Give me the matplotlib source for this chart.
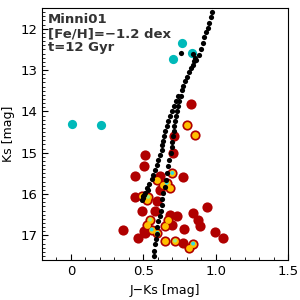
import matplotlib
matplotlib.use("Agg")
import matplotlib.pyplot as plt
from matplotlib.ticker import MultipleLocator

# isochrone, upper part (single sequence)
iso_top_x = [0.977, 0.966, 0.954, 0.945, 0.933, 0.922, 0.913, 0.897, 0.883, 0.864,
             0.844, 0.830, 0.816, 0.804, 0.788, 0.774, 0.765, 0.761, 0.845, 0.855, 0.850]
iso_top_y = [11.60, 11.71, 11.86, 11.97, 12.08, 12.20, 12.35, 12.49, 12.64, 12.76,
             12.88, 12.95, 13.05, 13.17, 13.26, 13.38, 13.48, 12.59, 12.62, 12.70, 12.78]
# left branch
iso_l_x = [0.740, 0.726, 0.712, 0.698, 0.685, 0.674, 0.664, 0.653, 0.643, 0.636,
           0.631, 0.627, 0.615, 0.604, 0.593, 0.581, 0.569, 0.558, 0.539, 0.524,
           0.512, 0.500, 0.491, 0.505, 0.530, 0.495]
iso_l_y = [13.63, 13.75, 13.87, 13.99, 14.11, 14.23, 14.35, 14.47, 14.59, 14.71,
           14.82, 14.93, 15.05, 15.17, 15.29, 15.41, 15.53, 15.63, 15.75, 15.85,
           15.97, 16.09, 16.14, 16.02, 15.90, 16.05]
# right branch
iso_r_x = [0.761, 0.750, 0.740, 0.733, 0.726, 0.719, 0.712, 0.709, 0.705, 0.700,
           0.695, 0.691, 0.678, 0.669, 0.662, 0.655, 0.650, 0.638, 0.629, 0.627,
           0.622, 0.615, 0.604, 0.598, 0.593, 0.588, 0.581, 0.576, 0.574, 0.571]
iso_r_y = [13.63, 13.75, 13.87, 13.99, 14.11, 14.23, 14.35, 14.47, 14.59, 14.73,
           14.86, 15.00, 15.17, 15.33, 15.49, 15.65, 15.82, 15.98, 16.11, 16.26,
           16.40, 16.54, 16.66, 16.81, 16.96, 17.10, 17.22, 17.39, 17.51, 17.64]

# stars: R = red only, Y = yellow centre, C = cyan centre, G = green centre
star_x = [0.832, 0.800, 0.857, 0.712, 0.512, 0.702, 0.507, 0.446, 0.774, 0.700,
          0.595, 0.615, 0.662, 0.685, 0.638, 0.615, 0.443, 0.489, 0.533, 0.524,
          0.593, 0.489, 0.581, 0.685, 0.731, 0.846, 0.938, 0.878, 0.892, 0.673,
          0.546, 0.524, 0.650, 0.696, 0.558, 0.598, 0.362, 0.461, 0.505, 0.783,
          0.996, 1.053, 0.719, 0.650, 0.844, 0.816, 0.776, 0.512]
star_y = [13.83, 14.33, 14.57, 14.59, 15.05, 15.01, 15.33, 15.56, 15.58, 15.49,
          15.65, 15.56, 15.73, 15.85, 15.78, 15.90, 16.07, 16.06, 16.07, 16.14,
          16.18, 16.40, 16.42, 16.50, 16.54, 16.46, 16.31, 16.62, 16.78, 16.62,
          16.62, 16.74, 16.78, 16.76, 16.86, 16.94, 16.86, 17.06, 16.89, 16.84,
          16.92, 17.06, 17.13, 17.13, 17.20, 17.30, 17.18, 16.94]
star_cat = ["R", "Y", "Y", "R", "R", "R", "R", "R", "R", "C",
            "Y", "R", "C", "Y", "Y", "R", "R", "Y", "G", "Y",
            "R", "R", "R", "R", "R", "R", "R", "R", "R", "Y",
            "G", "Y", "Y", "R", "C", "C", "R", "R", "R", "R",
            "R", "R", "G", "Y", "C", "Y", "R", "R"]

# bright cyan stars
cyan_x = [0.009, 0.206, 0.770, 0.707, 0.835]
cyan_y = [14.31, 14.33, 12.35, 12.74, 12.59]

fig, ax = plt.subplots(figsize=(3, 3), dpi=100)
fig.subplots_adjust(left=0.14, right=0.96, bottom=0.133, top=0.973)

ax.scatter(cyan_x, cyan_y, s=44, color="#00b9b9", lw=0, zorder=2)
ax.scatter(star_x, star_y, s=54, color="#b00000", lw=0, zorder=2)

yx = [x for x, c in zip(star_x, star_cat) if c != "R"]
yy = [y for y, c in zip(star_y, star_cat) if c != "R"]
ax.scatter(yx, yy, s=24, color="#ffc000", lw=0, zorder=3)

core_col = {"C": "#33dddd", "G": "#a0ee80"}
cx = [x for x, c in zip(star_x, star_cat) if c in core_col]
cy = [y for y, c in zip(star_y, star_cat) if c in core_col]
cc = [core_col[c] for c in star_cat if c in core_col]
ax.scatter(cx, cy, s=8, c=cc, lw=0, zorder=4)

for xs, ys in [(iso_top_x, iso_top_y), (iso_l_x, iso_l_y), (iso_r_x, iso_r_y)]:
    ax.scatter(xs, ys, s=14, color="black", lw=0, zorder=5)

ax.set_xlim(-0.2, 1.5)
ax.set_ylim(17.6, 11.5)
ax.xaxis.set_major_locator(MultipleLocator(0.5))
ax.xaxis.set_minor_locator(MultipleLocator(0.1))
ax.yaxis.set_major_locator(MultipleLocator(1))
ax.yaxis.set_minor_locator(MultipleLocator(0.1))
ax.set_xticks([0, 0.5, 1.0, 1.5])
ax.set_xticklabels(["0", "0.5", "1.0", "1.5"])
ax.tick_params(which="both", direction="in", top=False, right=False, labelsize=9.5)
ax.tick_params(which="major", length=4)
ax.tick_params(which="minor", length=2)

ax.set_xlabel("J\u2212Ks [mag]", fontsize=9)
ax.set_ylabel("Ks [mag]", fontsize=9)

ax.text(0.025, 0.98, "Minni01\n[Fe/H]=\u22121.2 dex\nt=12 Gyr", transform=ax.transAxes,
        ha="left", va="top", fontsize=9.5, fontweight="bold", color="#333333",
        linespacing=1.1)

fig.savefig("out.png", dpi=100)
